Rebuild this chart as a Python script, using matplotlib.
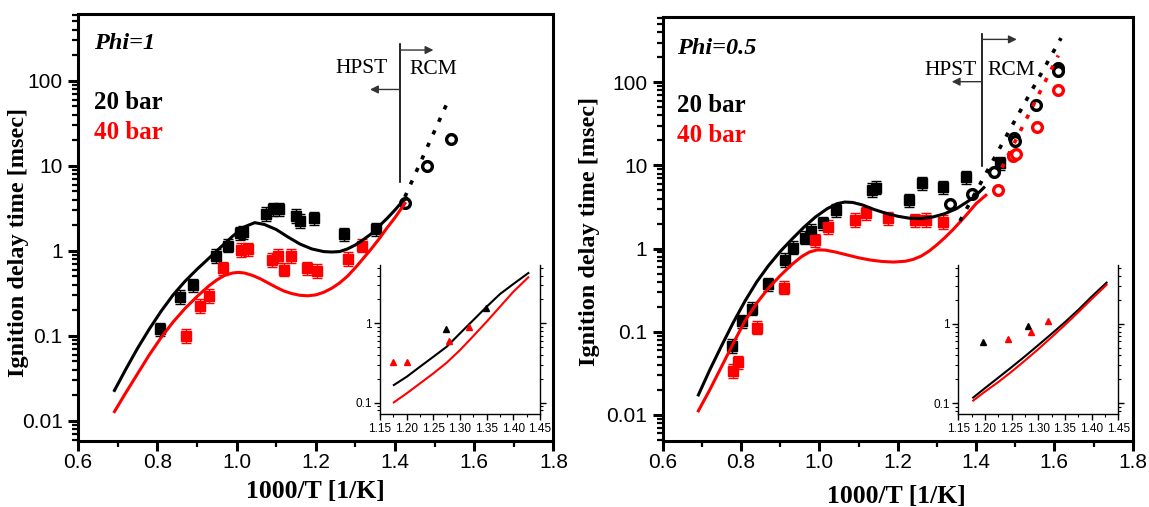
import matplotlib
matplotlib.use("Agg")
import matplotlib.pyplot as plt
from matplotlib.ticker import FixedLocator, LogLocator, NullFormatter, FormatStrFormatter

plt.rc("font", family="Liberation Serif")

# ---------------- Phi = 1 ----------------
p1_model20_x = [0.692, 0.72, 0.75, 0.78, 0.81, 0.84, 0.87, 0.90, 0.93, 0.96,
                0.99, 1.02, 1.046, 1.07, 1.10, 1.13, 1.16, 1.19, 1.22, 1.24,
                1.26, 1.28, 1.30, 1.32, 1.34, 1.36, 1.38, 1.40, 1.415, 1.429]
p1_model20_y = [0.0227, 0.0398, 0.0708, 0.120, 0.195, 0.302, 0.437, 0.603, 0.813, 1.10,
                1.48, 1.91, 2.14, 2.04, 1.78, 1.45, 1.20, 1.05, 0.977, 0.966,
                0.977, 1.05, 1.17, 1.35, 1.58, 1.95, 2.40, 3.02, 3.63, 4.17]
p1_model40_x = [0.692, 0.72, 0.75, 0.78, 0.81, 0.84, 0.87, 0.90, 0.93, 0.95,
                0.97, 0.99, 1.005, 1.02, 1.04, 1.06, 1.08, 1.10, 1.12, 1.14,
                1.16, 1.18, 1.20, 1.22, 1.24, 1.26, 1.28, 1.30, 1.32, 1.34,
                1.36, 1.38, 1.40, 1.425]
p1_model40_y = [0.0128, 0.0211, 0.0355, 0.0596, 0.0955, 0.145, 0.209, 0.288, 0.385, 0.452,
                0.513, 0.547, 0.556, 0.547, 0.513, 0.468, 0.417, 0.372, 0.335, 0.313,
                0.299, 0.295, 0.302, 0.324, 0.361, 0.417, 0.501, 0.631, 0.813, 1.05,
                1.38, 1.86, 2.45, 3.61]
p1_rcm_model_x = [1.425, 1.535]
p1_rcm_model_y = [4.3, 59.3]

p1_exp20_x = [0.808, 0.858, 0.891, 0.949, 0.978, 1.008, 1.016, 1.075, 1.092, 1.106,
              1.149, 1.160, 1.195, 1.272, 1.352]
p1_exp20_y = [0.119, 0.288, 0.392, 0.867, 1.15, 1.6, 1.64, 2.7, 3.07, 3.07,
              2.56, 2.25, 2.4, 1.56, 1.79]
p1_exp40_x = [0.873, 0.907, 0.930, 0.966, 1.012, 1.029, 1.090, 1.105, 1.120, 1.137,
              1.178, 1.202, 1.282, 1.318]
p1_exp40_y = [0.099, 0.225, 0.293, 0.62, 1.02, 1.04, 0.78, 0.87, 0.60, 0.87,
              0.62, 0.58, 0.80, 1.15]
p1_rcm20_x = [1.425, 1.482, 1.542]
p1_rcm20_y = [3.67, 10.0, 20.6]

p1_ins20_x = [1.176, 1.200, 1.225, 1.250, 1.275, 1.300, 1.325, 1.350, 1.375, 1.400, 1.428]
p1_ins20_y = [0.167, 0.212, 0.284, 0.379, 0.507, 0.748, 1.10, 1.62, 2.34, 3.13, 4.3]
p1_ins40_x = [1.176, 1.200, 1.225, 1.250, 1.275, 1.300, 1.325, 1.350, 1.375, 1.400, 1.428]
p1_ins40_y = [0.101, 0.131, 0.175, 0.234, 0.319, 0.46, 0.692, 1.05, 1.62, 2.5, 3.8]
p1_tri20_x = [1.274, 1.349]
p1_tri20_y = [0.85, 1.55]
p1_tri40_x = [1.175, 1.201, 1.280, 1.317]
p1_tri40_y = [0.322, 0.328, 0.60, 0.89]

# ---------------- Phi = 0.5 ----------------
p2_model20_x = [0.691, 0.72, 0.75, 0.78, 0.81, 0.84, 0.87, 0.90, 0.93, 0.96,
                0.99, 1.02, 1.045, 1.065, 1.085, 1.11, 1.14, 1.17, 1.20, 1.23,
                1.26, 1.29, 1.32, 1.35, 1.38, 1.40, 1.42]
p2_model20_y = [0.0174, 0.0347, 0.0676, 0.129, 0.234, 0.398, 0.624, 0.923, 1.30, 1.80,
                2.40, 3.02, 3.47, 3.63, 3.59, 3.35, 2.95, 2.66, 2.45, 2.32,
                2.30, 2.40, 2.63, 3.02, 3.72, 4.37, 5.41]
p2_model40_x = [0.691, 0.72, 0.75, 0.78, 0.81, 0.84, 0.87, 0.90, 0.93, 0.955,
                0.975, 0.995, 1.015, 1.04, 1.07, 1.10, 1.13, 1.16, 1.19, 1.22,
                1.24, 1.26, 1.28, 1.30, 1.32, 1.34, 1.36, 1.38, 1.40, 1.425]
p2_model40_y = [0.0112, 0.020, 0.038, 0.0724, 0.135, 0.221, 0.335, 0.473, 0.646, 0.804,
                0.912, 0.966, 0.959, 0.912, 0.841, 0.776, 0.729, 0.700, 0.689, 0.705,
                0.743, 0.813, 0.933, 1.11, 1.35, 1.67, 2.11, 2.69, 3.47, 4.38]
p2_rcm_model20_x = [1.359, 1.490, 1.617]
p2_rcm_model20_y = [2.15, 29.0, 340.0]
p2_rcm_model40_x = [1.466, 1.610]
p2_rcm_model40_y = [9.4, 210.0]

p2_exp20_x = [0.776, 0.803, 0.829, 0.870, 0.912, 0.933, 0.963, 0.979, 1.008, 1.042,
              1.134, 1.145, 1.229, 1.263, 1.315, 1.374, 1.461]
p2_exp20_y = [0.0676, 0.133, 0.19, 0.372, 0.73, 1.03, 1.36, 1.63, 2.01, 2.89,
              5.06, 5.4, 3.8, 6.1, 5.46, 7.2, 10.6]
p2_exp40_x = [0.780, 0.791, 0.840, 0.910, 0.989, 1.023, 1.091, 1.119, 1.176, 1.244,
              1.273, 1.316]
p2_exp40_y = [0.0338, 0.0427, 0.112, 0.34, 1.26, 1.82, 2.21, 2.66, 2.31, 2.19,
              2.21, 2.09]
p2_rcm20_x = [1.334, 1.389, 1.447, 1.496, 1.500, 1.553, 1.610, 1.610]
p2_rcm20_y = [3.4, 4.5, 8.3, 21.5, 19.5, 53.0, 150.0, 135.0]
p2_rcm40_x = [1.457, 1.494, 1.502, 1.555, 1.610]
p2_rcm40_y = [5.06, 13.0, 13.8, 29.3, 80.5]

p2_ins20_x = [1.178, 1.200, 1.225, 1.250, 1.275, 1.300, 1.325, 1.350, 1.375, 1.400, 1.428]
p2_ins20_y = [0.118, 0.155, 0.21, 0.285, 0.39, 0.54, 0.75, 1.05, 1.5, 2.2, 3.3]
p2_ins40_x = [1.178, 1.200, 1.225, 1.250, 1.275, 1.300, 1.325, 1.350, 1.375, 1.400, 1.428]
p2_ins40_y = [0.108, 0.14, 0.185, 0.25, 0.345, 0.48, 0.68, 0.97, 1.4, 2.05, 3.1]
p2_tri20_x = [1.197, 1.280]
p2_tri20_y = [0.59, 0.95]
p2_tri40_x = [1.244, 1.286, 1.319]
p2_tri40_y = [0.64, 0.79, 1.07]

RED = "#ff0000"
DOT = (0, (1.2, 2.6))


def style_main(ax, ylim):
  ax.set_yscale("log")
  ax.set_xlim(0.6, 1.8)
  ax.set_ylim(*ylim)
  for s in ax.spines.values():
    s.set_linewidth(2.2)
  ax.xaxis.set_major_locator(FixedLocator([0.6, 0.8, 1.0, 1.2, 1.4, 1.6, 1.8]))
  ax.xaxis.set_minor_locator(FixedLocator([0.7, 0.9, 1.1, 1.3, 1.5, 1.7]))
  ax.xaxis.set_major_formatter(FormatStrFormatter("%.1f"))
  ax.yaxis.set_major_locator(FixedLocator([0.01, 0.1, 1, 10, 100]))
  ax.set_yticklabels(["0.01", "0.1", "1", "10", "100"])
  ax.yaxis.set_minor_locator(LogLocator(base=10, subs=range(2, 10), numticks=20))
  ax.yaxis.set_minor_formatter(NullFormatter())
  ax.tick_params(which="major", direction="out", length=7, width=2.2, labelsize=15)
  ax.tick_params(axis="x", which="major", pad=2)
  ax.tick_params(axis="y", which="major", pad=4)
  ax.tick_params(which="minor", direction="out", length=4, width=1.6)
  ax.tick_params(top=False, right=False, which="both")
  for lab in ax.get_xticklabels() + ax.get_yticklabels():
    lab.set_family("Liberation Sans")


def style_inset(ax, ylim):
  ax.set_yscale("log")
  ax.set_xlim(1.15, 1.45)
  ax.set_ylim(*ylim)
  ax.spines["top"].set_visible(False)
  for s in ["left", "bottom", "right"]:
    ax.spines[s].set_linewidth(1.0)
  ax.xaxis.set_major_locator(FixedLocator([1.15, 1.20, 1.25, 1.30, 1.35, 1.40, 1.45]))
  ax.xaxis.set_minor_locator(FixedLocator([1.175, 1.225, 1.275, 1.325, 1.375, 1.425]))
  ax.xaxis.set_major_formatter(FormatStrFormatter("%.2f"))
  ax.yaxis.set_major_locator(FixedLocator([0.1, 1]))
  ax.set_yticklabels(["0.1", "1"])
  ax.yaxis.set_minor_locator(LogLocator(base=10, subs=range(2, 10), numticks=20))
  ax.yaxis.set_minor_formatter(NullFormatter())
  ax.tick_params(which="major", direction="out", length=4, width=1.0,
                 labelsize=8.5, pad=2)
  ax.tick_params(which="minor", direction="out", length=2, width=0.8)
  ax.tick_params(axis="y", which="both", right=True)
  for lab in ax.get_xticklabels() + ax.get_yticklabels():
    lab.set_family("Liberation Sans")


def draw_region_marks(ax, line_x, line_y0, line_y1, arr_right_y, arr_right_x,
                      arr_left_y, arr_left_x, hpst_xy, rcm_xy):
  ax.plot([line_x, line_x], [line_y0, line_y1], color="black", lw=1.2)
  for ay, ax_end in [(arr_right_y, arr_right_x), (arr_left_y, arr_left_x)]:
    ax.annotate("", xy=(ax_end, ay), xytext=(line_x, ay),
                arrowprops=dict(arrowstyle="-|>", color="#333333", lw=1.0,
                                mutation_scale=12, shrinkA=0, shrinkB=0))
  ax.text(hpst_xy[0], hpst_xy[1], "HPST", fontsize=15.5, ha="center", va="center")
  ax.text(rcm_xy[0], rcm_xy[1], "RCM", fontsize=15.5, ha="center", va="center")


def squares(ax, x, y, color):
  ax.errorbar(x, y, yerr=[[v * 0.17 for v in y], [v * 0.2 for v in y]],
              fmt="s", color=color, ecolor=color, ms=6.5, capsize=3.5,
              elinewidth=1.0, capthick=1.0, zorder=3)


def circles(ax, x, y, color):
  ax.errorbar(x, y, yerr=[[v * 0.1 for v in y], [v * 0.12 for v in y]],
              fmt="o", color=color, mfc="white", mec=color, ms=7, mew=2.4,
              ecolor=color, capsize=2.5, elinewidth=1.0, zorder=4)


def labels(ax, phi, phi_xy, bar20_y, bar40_y, ylab_xy, xlab_xy):
  ax.text(phi_xy[0], phi_xy[1], phi, transform=ax.transAxes, fontsize=17.5,
          fontweight="bold", fontstyle="italic", va="center")
  ax.text(phi_xy[0], bar20_y, "20 bar", transform=ax.transAxes, fontsize=18,
          fontweight="bold", va="center", color="black")
  ax.text(phi_xy[0], bar40_y, "40 bar", transform=ax.transAxes, fontsize=18,
          fontweight="bold", va="center", color=RED)
  ax.text(ylab_xy[0], ylab_xy[1], "Ignition delay time [msec]",
          transform=ax.transAxes, rotation=90, fontsize=17.5,
          fontweight="bold", ha="center", va="center")
  ax.text(xlab_xy[0], xlab_xy[1], "1000/T [1/K]", transform=ax.transAxes,
          fontsize=18.5, fontweight="bold", ha="center", va="center")


fig = plt.figure(figsize=(11.49, 5.07), dpi=100)

# ---- left panel ----
ax1 = fig.add_axes([0.0679, 0.1302, 0.4138, 0.842])
ax1.plot(p1_model20_x, p1_model20_y, color="black", lw=2.2, zorder=5)
ax1.plot(p1_model40_x, p1_model40_y, color=RED, lw=2.2, zorder=5)
ax1.plot(p1_rcm_model_x, p1_rcm_model_y, color="black", lw=2.6, ls=DOT, zorder=5)
squares(ax1, p1_exp20_x, p1_exp20_y, "black")
squares(ax1, p1_exp40_x, p1_exp40_y, RED)
circles(ax1, p1_rcm20_x, p1_rcm20_y, "black")
style_main(ax1, (0.00577, 609))
draw_region_marks(ax1, 1.4126, 270, 6.4, 230, 1.497, 79, 1.337,
                  (1.3147, 140), (1.497, 136))
labels(ax1, "Phi=1", (0.034, 0.932), 0.793, 0.723, (-0.125, 0.465), (0.5, -0.119))

in1 = fig.add_axes([0.3307, 0.1828, 0.1393, 0.2945])
in1.plot(p1_ins20_x, p1_ins20_y, color="black", lw=1.5)
in1.plot(p1_ins40_x, p1_ins40_y, color=RED, lw=1.5)
in1.plot(p1_tri20_x, p1_tri20_y, "^", color="black", ms=5)
in1.plot(p1_tri40_x, p1_tri40_y, "^", color=RED, ms=5)
style_inset(in1, (0.0714, 5.43))

# ---- right panel ----
ax2 = fig.add_axes([0.5768, 0.1308, 0.409, 0.835])
ax2.plot(p2_model20_x, p2_model20_y, color="black", lw=2.2, zorder=5)
ax2.plot(p2_model40_x, p2_model40_y, color=RED, lw=2.2, zorder=5)
ax2.plot(p2_rcm_model20_x, p2_rcm_model20_y, color="black", lw=2.6, ls=DOT, zorder=5)
ax2.plot(p2_rcm_model40_x, p2_rcm_model40_y, color=RED, lw=2.6, ls=DOT, zorder=5)
squares(ax2, p2_exp20_x, p2_exp20_y, "black")
squares(ax2, p2_exp40_x, p2_exp40_y, RED)
circles(ax2, p2_rcm20_x, p2_rcm20_y, "black")
circles(ax2, p2_rcm40_x, p2_rcm40_y, RED)
style_main(ax2, (0.0049, 604))
draw_region_marks(ax2, 1.4144, 377, 9.8, 328, 1.504, 101.7, 1.338,
                  (1.336, 140), (1.491, 140))
labels(ax2, "Phi=0.5", (0.030, 0.927), 0.792, 0.722, (-0.155, 0.493), (0.498, -0.133))

in2 = fig.add_axes([0.834, 0.1828, 0.1393, 0.2945])
in2.plot(p2_ins20_x, p2_ins20_y, color="black", lw=1.5)
in2.plot(p2_ins40_x, p2_ins40_y, color=RED, lw=1.5)
in2.plot(p2_tri20_x, p2_tri20_y, "^", color="black", ms=5)
in2.plot(p2_tri40_x, p2_tri40_y, "^", color=RED, ms=5)
style_inset(in2, (0.0726, 5.5))

fig.savefig("out.png", dpi=100)
plt.close(fig)
